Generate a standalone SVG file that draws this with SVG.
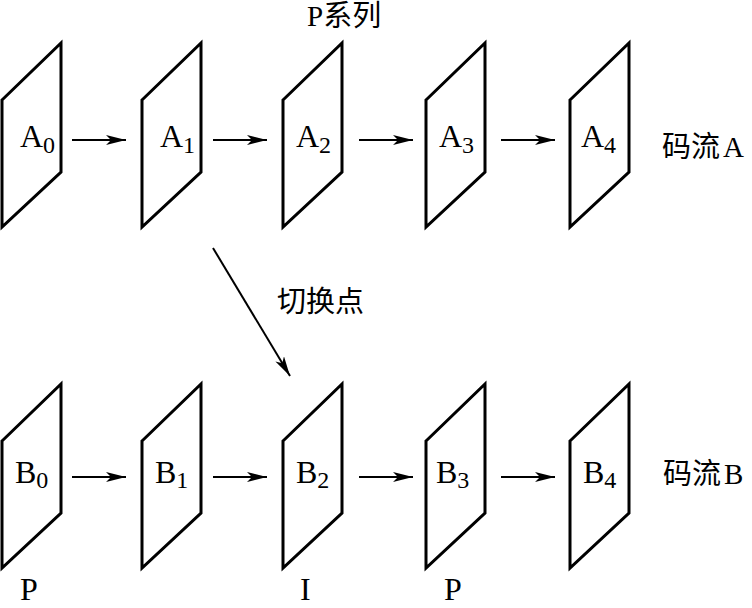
<svg xmlns="http://www.w3.org/2000/svg" width="752" height="608" viewBox="0 0 752 608">
<defs>
<style>
.frame{fill:none;stroke:#000;stroke-width:3;stroke-linejoin:miter}
.lbl{font-family:"Liberation Serif","Times New Roman",serif;font-size:32px;fill:#000}
.sub{font-size:24px}
.cjk{font-family:"Liberation Serif","Noto Sans CJK SC",serif;font-size:29px;fill:#000}
.conn{stroke:#000;stroke-width:2;fill:none}
</style>
<marker id="ah" markerUnits="userSpaceOnUse" markerWidth="24" markerHeight="12" refX="20" refY="5" orient="auto">
<path d="M0,0 L20,5 L0,10 L5,5 Z" fill="#000"/>
</marker>
<polygon id="pg" points="0,57 59,0 59,129 0,184" class="frame"/>
</defs>
<rect width="752" height="608" fill="#fff"/>
<text class="cjk" x="307" y="26" font-size="27">P系列</text>
<g id="A0"><use href="#pg" x="2" y="43"/><text class="lbl" x="20" y="147">A<tspan class="sub" dy="6">0</tspan></text></g>
<g id="A1"><use href="#pg" x="142" y="43"/><text class="lbl" x="160" y="147">A<tspan class="sub" dy="6">1</tspan></text></g>
<g id="A2"><use href="#pg" x="283" y="43"/><text class="lbl" x="296" y="147">A<tspan class="sub" dy="6">2</tspan></text></g>
<g id="A3"><use href="#pg" x="426" y="43"/><text class="lbl" x="439" y="147">A<tspan class="sub" dy="6">3</tspan></text></g>
<g id="A4"><use href="#pg" x="570" y="43"/><text class="lbl" x="581" y="147">A<tspan class="sub" dy="6">4</tspan></text></g>
<text class="cjk" x="662" y="157">码流<tspan dx="3">A</tspan></text>
<g id="B0"><use href="#pg" x="2" y="384"/><text class="lbl" x="15" y="483">B<tspan class="sub" dy="5">0</tspan></text></g>
<g id="B1"><use href="#pg" x="142" y="384"/><text class="lbl" x="155" y="483">B<tspan class="sub" dy="5">1</tspan></text></g>
<g id="B2"><use href="#pg" x="283" y="384"/><text class="lbl" x="296" y="483">B<tspan class="sub" dy="5">2</tspan></text></g>
<g id="B3"><use href="#pg" x="426" y="384"/><text class="lbl" x="436" y="483">B<tspan class="sub" dy="5">3</tspan></text></g>
<g id="B4"><use href="#pg" x="570" y="384"/><text class="lbl" x="583" y="483">B<tspan class="sub" dy="5">4</tspan></text></g>
<text class="cjk" x="663" y="484">码流<tspan dx="3">B</tspan></text>
<text class="cjk" x="277" y="312">切换点</text>
<text class="lbl" x="20" y="600" font-size="30">P</text>
<text class="lbl" x="300" y="600" font-size="30">I</text>
<text class="lbl" x="444" y="600" font-size="30">P</text>
<g id="connectors">
<line class="conn" x1="72" y1="140" x2="126" y2="140" marker-end="url(#ah)"/>
<line class="conn" x1="213" y1="140" x2="267" y2="140" marker-end="url(#ah)"/>
<line class="conn" x1="359" y1="140" x2="413" y2="140" marker-end="url(#ah)"/>
<line class="conn" x1="501" y1="140" x2="555" y2="140" marker-end="url(#ah)"/>
<line class="conn" x1="72" y1="477" x2="126" y2="477" marker-end="url(#ah)"/>
<line class="conn" x1="213" y1="477" x2="267" y2="477" marker-end="url(#ah)"/>
<line class="conn" x1="359" y1="477" x2="413" y2="477" marker-end="url(#ah)"/>
<line class="conn" x1="501" y1="477" x2="555" y2="477" marker-end="url(#ah)"/>
<line class="conn" x1="213" y1="248" x2="290" y2="376" marker-end="url(#ah)"/>
</g>
</svg>
